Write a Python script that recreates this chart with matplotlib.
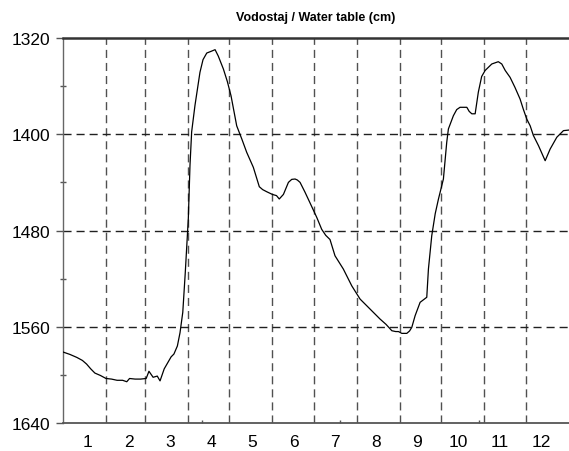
import matplotlib
matplotlib.use("Agg")
import matplotlib.pyplot as plt
import numpy as np

plt.rcParams['font.family'] = ['Liberation Sans', 'DejaVu Sans']

title = "Vodostaj / Water table (cm)"
month_labels = ["1", "2", "3", "4", "5", "6", "7", "8", "9", "10", "11", "12"]
month_lengths = [31, 28, 31, 30, 31, 30, 31, 31, 30, 31, 30, 31]
y_ticks = [1320, 1400, 1480, 1560, 1640]
y_minor = [1360, 1440, 1520, 1600]
h_grid = [1400, 1480, 1560]

days = [0, 5, 10, 14, 17, 20, 23, 27, 31, 35, 39, 43, 46, 48, 52, 56, 60, 62, 65, 68,
        70, 73, 75, 78, 80, 82.5, 84.4, 86.4, 88.2, 90.4, 91.6, 92.8, 95.2, 98.8, 101,
        103.7, 107, 109.7, 112, 115.7, 118.5, 121.2, 125.3, 129, 132.5, 137.3, 141.6,
        144, 147, 151, 154, 156, 159, 162.6, 165, 167.4, 169, 171, 174.5, 178, 183,
        186.6, 189.5, 192.6, 196.2, 202.2, 208.3, 214.3, 221.5, 228.7, 233, 237.2, 240,
        242, 244.4, 248, 250, 251.6, 254, 257.6, 262.4, 263.6, 266, 268.5, 270.8, 274.4,
        276.8, 278, 281.6, 284, 286.4, 291.3, 293, 294.9, 297.3, 299.6, 302, 304.5,
        309.3, 312, 314, 316.5, 319, 322.5, 326, 329.7, 332, 334.5, 337, 339.3, 343,
        347.8, 351.4, 356.2, 361, 365]
level = [1581, 1583, 1585.5, 1588, 1591, 1595, 1598.5, 1600.5, 1603, 1603.5, 1604.5,
         1604.5, 1605.7, 1603, 1603.5, 1603.5, 1603, 1597, 1602, 1601, 1605, 1595, 1591,
         1585, 1582.7, 1576, 1565, 1548, 1515, 1470, 1426, 1398, 1376, 1348.5, 1338,
         1332.5, 1331, 1329.7, 1335, 1345.8, 1356, 1368, 1393, 1404, 1415, 1427.5,
         1443.6, 1446, 1447.8, 1450, 1451, 1453.8, 1450, 1440, 1437.5, 1437.2, 1438,
         1440, 1448, 1456.6, 1469, 1479, 1484, 1487.5, 1501, 1512, 1526, 1537, 1545.3,
         1553.6, 1558, 1563.3, 1564, 1564, 1565.5, 1565.5, 1563.5, 1560.5, 1550.8,
         1539.7, 1535.5, 1512, 1484.3, 1466, 1454, 1437.2, 1406.7, 1395.6, 1384.6,
         1379.5, 1377.6, 1377.6, 1381, 1383, 1383, 1365, 1352, 1347, 1341.6, 1340.5,
         1339.7, 1341.6, 1347, 1352.7, 1361, 1370.7, 1379, 1387.3, 1393, 1401, 1409.5,
         1422, 1412.3, 1402.5, 1397, 1396.5]

fig = plt.figure(figsize=(5.69, 4.52), dpi=100)
ax = fig.add_axes([63/569, 1 - 424/452, 1 - 63/569, (424 - 39)/452])

ax.set_xlim(0, 365)
ax.set_ylim(1640, 1320)

# month boundaries
bounds = np.cumsum(month_lengths)[:-1]
for b in bounds:
    ax.axvline(b, color='#505050', lw=1.0, linestyle=(0, (5.8, 3.6)), zorder=1)
for h in h_grid:
    ax.axhline(h, color='#202020', lw=1.0, linestyle=(0, (5.8, 3.6)), zorder=1)

ax.plot(days, level, color='black', lw=0.9, zorder=3)

# y axis
ax.set_yticks(y_ticks)
ax.set_yticks(y_minor, minor=True)
ax.tick_params(axis='y', which='major', direction='out', length=5, width=1,
               color='#555555', labelsize=12.5, pad=4)
ax.tick_params(axis='y', which='minor', direction='inout', length=5, width=1,
               color='#555555')

# x axis: month labels equally spaced, small ticks every 100 days
lab_pos = [18 + 29.7 * i for i in range(12)]
ax.set_xticks(lab_pos)
ax.set_xticklabels(month_labels)
ax.set_xticks([100, 200, 300], minor=True)
ax.tick_params(axis='x', which='major', length=0, labelsize=12.5, pad=8)
ax.tick_params(axis='x', which='minor', direction='in', length=2, width=1,
               color='#555555')

ax.spines['right'].set_visible(False)
ax.spines['top'].set_color('#333333')
ax.spines['top'].set_linewidth(1.8)
ax.spines['left'].set_color('#666666')
ax.spines['left'].set_linewidth(1.0)
ax.spines['bottom'].set_color('#555555')
ax.spines['bottom'].set_linewidth(1.3)

fig.text((63 + 569) / 2 / 569, 1 - 18 / 452, title, ha='center', va='center',
         fontsize=9, fontweight='bold')

fig.savefig("out.png", dpi=100)
